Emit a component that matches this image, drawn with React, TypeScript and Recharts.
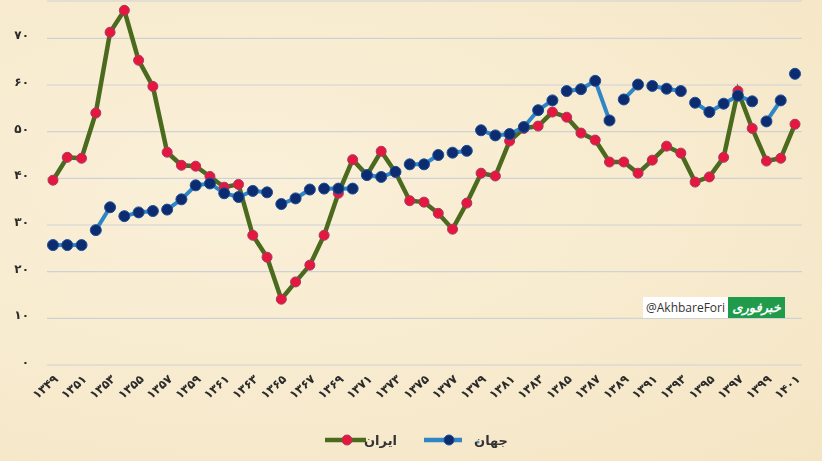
import React from "react";
import { LineChart, Line, XAxis, YAxis, CartesianGrid } from "recharts";

const years = [
  1349, 1350, 1351, 1352, 1353, 1354, 1355, 1356, 1357, 1358, 1359, 1360, 1361, 1362,
  1363, 1364, 1365, 1366, 1367, 1368, 1369, 1370, 1371, 1372, 1373, 1374, 1375, 1376,
  1377, 1378, 1379, 1380, 1381, 1382, 1383, 1384, 1385, 1386, 1387, 1388, 1389, 1390,
  1391, 1392, 1393, 1394, 1395, 1396, 1397, 1398, 1399, 1400, 1401,
];

const iran = [
  39.6, 44.5, 44.3, 54.0, 71.3, 76.0, 65.3, 59.7, 45.6, 42.8, 42.6, 40.4, 38.1, 38.7,
  27.8, 23.1, 14.1, 17.8, 21.4, 27.8, 36.8, 44.0, 40.7, 45.8, 41.3, 35.2, 34.9, 32.5,
  29.1, 34.7, 41.1, 40.5, 48.0, 50.7, 51.2, 54.2, 53.1, 49.7, 48.2, 43.5, 43.5, 41.1,
  43.9, 46.9, 45.4, 39.2, 40.3, 44.5, 58.7, 50.7, 43.7, 44.3, 51.6,
];

const world = [
  25.7, 25.7, 25.7, 28.9, 33.8, 31.9, 32.7, 33.0, 33.3, 35.5, 38.5, 38.9, 36.8, 36.0,
  37.3, 37.0, 34.5, 35.7, 37.6, 37.8, 37.8, 37.8, 40.7, 40.3, 41.4, 43.0, 43.0, 45.0,
  45.5, 45.9, 50.3, 49.2, 49.5, 51.0, 54.6, 56.7, 58.7, 59.1, 60.9, 52.4, 56.9, 60.1,
  59.8, 59.2, 58.7, 56.2, 54.2, 56.0, 57.7, 56.5, 52.2, 56.7, 62.4,
];

// indices after which the world line is broken
const worldBreaks = [2, 4, 7, 15, 18, 21, 24, 27, 29, 35, 39, 41, 44, 49, 51];

const yTicks = [0, 10, 20, 30, 40, 50, 60, 70];

const seriesNames = { iran: "ایران", world: "جهان" };

const faDigits = "۰۱۲۳۴۵۶۷۸۹";
const toFa = (v: number | string) =>
  String(v).replace(/[0-9]/g, (d) => faDigits[Number(d)]);

// build segments for world line
const segments: [number, number][] = [];
{
  let start = 0;
  for (const b of worldBreaks) {
    segments.push([start, b]);
    start = b + 1;
  }
  segments.push([start, world.length - 1]);
}

const data = years.map((y, i) => {
  const row: any = { year: toFa(y), iran: iran[i] };
  segments.forEach(([s, e], k) => {
    row["w" + k] = i >= s && i <= e ? world[i] : null;
  });
  return row;
});

const FONT = "'DejaVu Sans', sans-serif";

const XTick = (props: any) => {
  const { x, payload } = props;
  const ax = x + 6;
  const ay = 380;
  return (
    <text
      x={ax}
      y={ay}
      transform={`rotate(-42, ${ax}, ${ay})`}
      textAnchor="end"
      fontFamily={FONT}
      fontWeight="bold"
      fontSize={12}
      fill="#2b2b2b"
    >
      {payload.value}
    </text>
  );
};

const YTick = (props: any) => {
  const { y, payload } = props;
  return (
    <text
      x={29}
      y={y + 1}
      textAnchor="end"
      fontFamily={FONT}
      fontWeight="bold"
      fontSize={12}
      fill="#2b2b2b"
    >
      {toFa(payload.value)}
    </text>
  );
};

const IRAN_LINE = "#4B6A1E";
const IRAN_DOT = "#E5173C";
const WORLD_LINE = "#2F86C6";
const WORLD_DOT = "#0D2C70";

export default function App() {
  return (
    <div
      style={{
        position: "fixed",
        left: 0,
        top: 0,
        width: 822,
        height: 461,
        background:
          "radial-gradient(ellipse at 30% 40%, #FAF0D9 0%, #F7EACD 60%, #F4E5C4 100%)",
        overflow: "hidden",
      }}
    >
      <LineChart
        width={822}
        height={461}
        data={data}
        margin={{ top: 1, right: 20, bottom: 0, left: 0 }}
      >
        <CartesianGrid vertical={false} stroke="#CFD2D4" strokeWidth={1.2} />
        <XAxis
          dataKey="year"
          interval={1}
          axisLine={false}
          tickLine={false}
          height={96}
          padding={{ left: 6, right: 7 }}
          tick={<XTick />}
        />
        <YAxis
          domain={[0, 78]}
          ticks={yTicks}
          axisLine={false}
          tickLine={false}
          width={47}
          tick={<YTick />}
        />
        <Line
          dataKey="iran"
          stroke={IRAN_LINE}
          strokeWidth={4.5}
          dot={{ r: 5, fill: IRAN_DOT, stroke: "#A8386A", strokeWidth: 1 }}
          activeDot={false}
          isAnimationActive={false}
        />
        {segments.map((_, k) => (
          <Line
            key={k}
            dataKey={"w" + k}
            stroke={WORLD_LINE}
            strokeWidth={4}
            connectNulls={false}
            dot={{ r: 5.5, fill: WORLD_DOT, stroke: "#1A4F9A", strokeWidth: 1 }}
            activeDot={false}
            isAnimationActive={false}
          />
        ))}
      </LineChart>

      {/* watermark */}
      <div
        style={{
          position: "absolute",
          left: 643,
          top: 297,
          height: 21,
          display: "flex",
          alignItems: "stretch",
        }}
      >
        <div
          style={{
            background: "#FFFFFF",
            color: "#333",
            fontFamily: "'Segoe UI', 'Open Sans', sans-serif",
            fontSize: 12,
            lineHeight: "21px",
            padding: "0 3px",
          }}
        >
          @AkhbareFori
        </div>
        <div
          style={{
            background: "#1F9B4B",
            color: "#fff",
            fontFamily: FONT,
            fontWeight: "bold",
            fontSize: 13,
            lineHeight: "21px",
            width: 57,
            textAlign: "center",
            fontStyle: "italic",
          }}
        >
          خبرفوری
        </div>
      </div>

      {/* legend */}
      <svg
        style={{ position: "absolute", left: 0, top: 425 }}
        width={822}
        height={30}
      >
        <line x1={325} y1={15} x2={366} y2={15} stroke={IRAN_LINE} strokeWidth={4.5} />
        <circle cx={347} cy={15} r={5} fill={IRAN_DOT} stroke="#A8386A" strokeWidth={1} />
        <text
          x={397}
          y={20}
          textAnchor="end"
          fontFamily={FONT}
          fontWeight="bold"
          fontSize={13}
          fill="#333"
        >
          {seriesNames.iran}
        </text>
        <line x1={424} y1={15} x2={462} y2={15} stroke={WORLD_LINE} strokeWidth={4.5} />
        <circle cx={449} cy={15} r={5} fill={WORLD_DOT} stroke="#1A4F9A" strokeWidth={1} />
        <circle cx={478} cy={17} r={1.6} fill="#5a8fb8" />
        <text
          x={508}
          y={20}
          textAnchor="end"
          fontFamily={FONT}
          fontWeight="bold"
          fontSize={13}
          fill="#333"
        >
          {seriesNames.world}
        </text>
      </svg>
    </div>
  );
}
